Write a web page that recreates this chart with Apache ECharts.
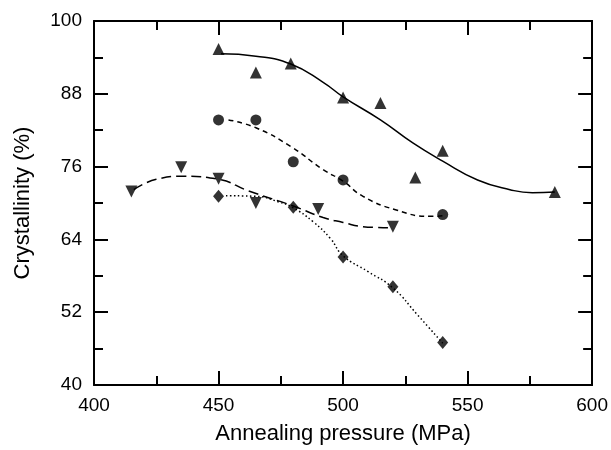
<!DOCTYPE html>
<html><head><meta charset="utf-8">
<script src="https://cdn.jsdelivr.net/npm/echarts@6/dist/echarts.min.js"></script>
<style>html,body{margin:0;padding:0;background:#fff}#c{width:611px;height:450px}</style>
</head><body><div id="c"></div>
<script>
// Measured markers
var upTri = [[450,95.4],[465,91.5],[479,93.0],[500,87.4],[515,86.5],[529,74.2],[540,78.6],[585,71.8]];
var circles = [[450,83.7],[465,83.7],[480,76.8],[500,73.8],[540,68.1]];
var downTri = [[415,71.9],[435,75.9],[450,74.0],[465,70.0],[490,69.0],[520,66.1]];
var diamonds = [[450,71.1],[480,69.3],[500,61.1],[520,56.2],[540,47.0]];
// Fitted curves
var upFit = [[451,94.6],[465,94.2],[479,92.9],[492,89.9],[500,87.5],[515,83.7],[528,79.9],[540,76.9],[554,73.8],[567,72.2],[576,71.7],[585,71.8]];
var circleFit = [[454,83.7],[465,82.4],[479,79.3],[492,75.5],[500,73.6],[508,71.1],[521,68.9],[535,67.8],[540,67.9]];
var downFit = [[416,72.2],[425,73.9],[436,74.4],[450,73.9],[462,72.0],[480,69.5],[492,67.6],[500,66.8],[508,66.1],[519,65.9]];
var diamondFit = [[453,71.2],[465,71.1],[474,70.2],[480,69.2],[488,66.9],[495,64.1],[500,61.3],[510,58.7],[520,56.0],[530,51.5],[540,46.9]];
var xTitle = 'Annealing pressure (MPa)';
var yTitle = 'Crystallinity (%)';

var FONT = 'Liberation Sans';
var chart = echarts.init(document.getElementById('c'), null, {renderer:'canvas'});
var axisLineStyle = {color:'#000', width:2};
function xAx(pos, show){
  return {type:'value', position:pos, min:400, max:600, interval:50,
    axisLine:{show:true, onZero:false, lineStyle:axisLineStyle},
    axisTick:{show:true, inside:true, length:14, lineStyle:{color:'#000', width:2}},
    minorTick:{show:true, splitNumber:2, length:9, lineStyle:{color:'#000', width:2}},
    splitLine:{show:false},
    axisLabel:{show:show, margin:11, color:'#000', fontSize:19, fontFamily:FONT},
    name: show ? xTitle : '', nameLocation:'middle', nameGap:38,
    nameTextStyle:{color:'#000', fontSize:22, fontFamily:FONT}};
}
function yAx(pos, show){
  return {type:'value', position:pos, min:40, max:100, interval:12,
    axisLine:{show:true, onZero:false, lineStyle:axisLineStyle},
    axisTick:{show:true, inside:true, length:14, lineStyle:{color:'#000', width:2}},
    minorTick:{show:true, splitNumber:2, length:9, lineStyle:{color:'#000', width:2}},
    splitLine:{show:false},
    axisLabel:{show:show, margin:12, color:'#000', fontSize:19, fontFamily:FONT},
    name: show ? yTitle : '', nameLocation:'middle', nameGap:60,
    nameTextStyle:{color:'#000', fontSize:22, fontFamily:FONT}};
}
function fit(data, dash){
  return {type:'line', data:data, smooth:0.5, showSymbol:false, symbol:'none', xAxisIndex:0, yAxisIndex:0,
    lineStyle:{color:'#000', width:1.5, type:dash}, silent:true, z:2};
}
function pts(data, sym, size, rot){
  return {type:'scatter', data:data, symbol:sym, symbolSize:size, symbolRotate:rot||0, xAxisIndex:0, yAxisIndex:0,
    itemStyle:{color:'#000'}, silent:true, z:3};
}
chart.setOption({
  animation:false,
  backgroundColor:'#fff',
  grid:{left:94, right:18, top:21, bottom:64},
  xAxis:[xAx('bottom', true), xAx('top', false)],
  yAxis:[yAx('left', true), yAx('right', false)],
  series:[
    fit(upFit, 'solid'),
    fit(circleFit, [5,4]),
    fit(downFit, [10,5]),
    fit(diamondFit, [1.5,2.5]),
    pts(upTri, 'triangle', 12),
    pts(circles, 'circle', 11),
    pts(downTri, 'triangle', 12, 180),
    pts(diamonds, 'diamond', [11,13])
  ]
});
</script></body></html>
